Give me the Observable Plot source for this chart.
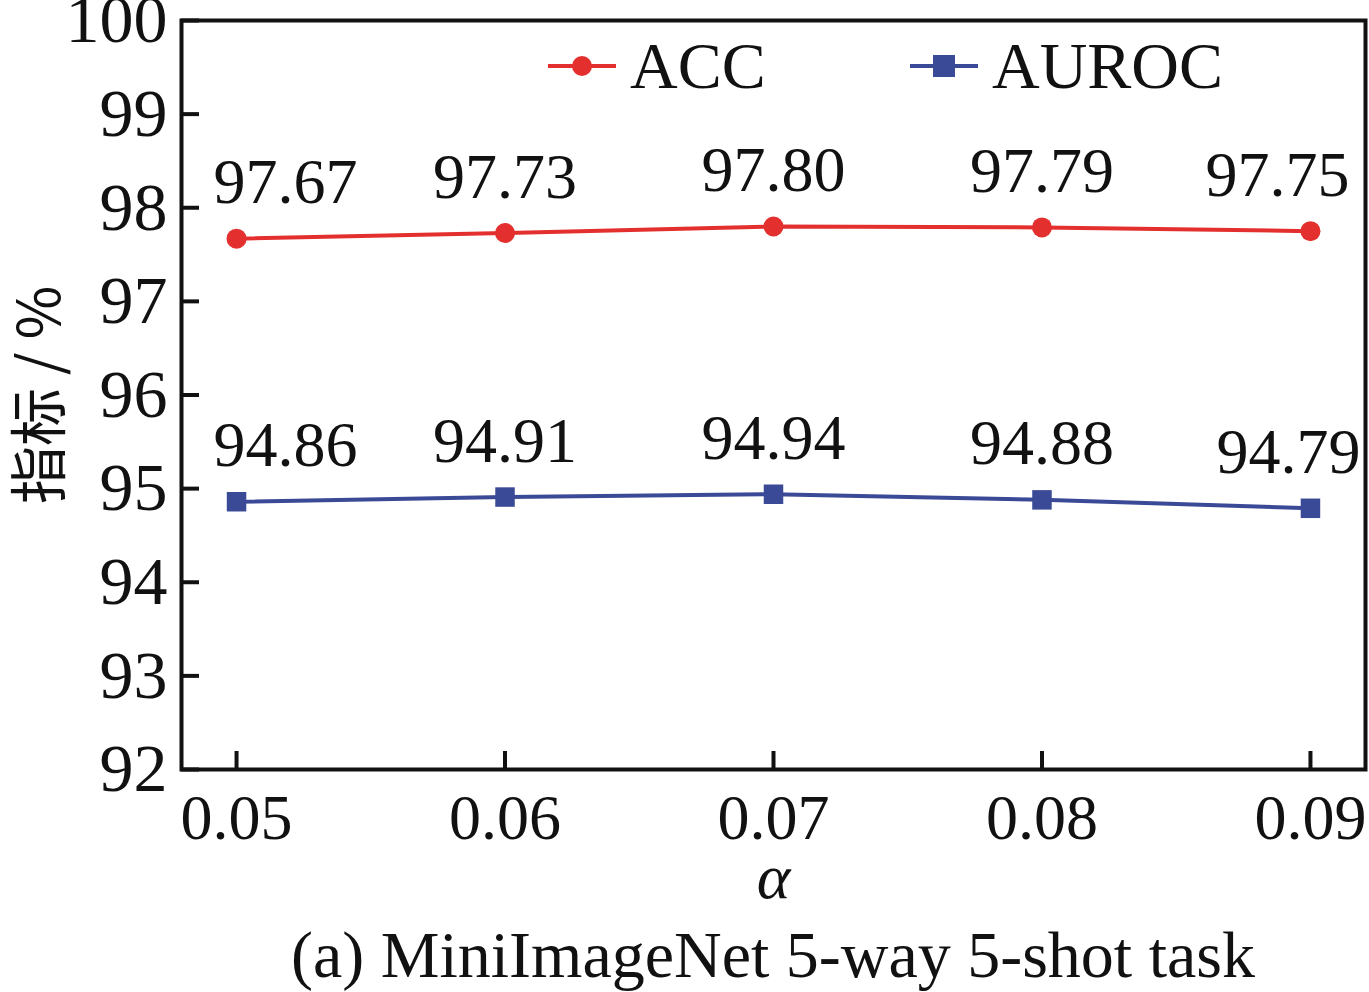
<!DOCTYPE html>
<html>
<head>
<meta charset="utf-8">
<script src="https://cdn.jsdelivr.net/npm/d3@7"></script>
<script src="https://cdn.jsdelivr.net/npm/@observablehq/plot@0.6"></script>
<style>
  html, body { margin: 0; padding: 0; background: #fff; }
  #wrap { position: relative; width: 1369px; height: 992px; font-family: "Liberation Serif", "Times New Roman", serif; }
  #legend { position: absolute; left: 0; top: 0; width: 1369px; height: 120px; pointer-events: none; }
  .leg { position: absolute; top: 28px; display: flex; align-items: center; font-size: 66px; line-height: 76px; color: #111; }
  .leg svg { margin-right: 14px; }
  #caption { position: absolute; left: 181px; top: 918px; width: 1184px; text-align: center; font-size: 66px; line-height: 74px; color: #111; white-space: nowrap; }
</style>
</head>
<body>
<div id="wrap">
  <div id="chart"></div>
  <div id="legend"></div>
  <div id="caption"></div>
</div>
<script>
const alphas = [0.05, 0.06, 0.07, 0.08, 0.09];
const accValues = [97.67, 97.73, 97.80, 97.79, 97.75];
const aurocValues = [94.86, 94.91, 94.94, 94.88, 94.79];
const yTicks = [92, 93, 94, 95, 96, 97, 98, 99, 100];
const xTickLabels = ["0.05", "0.06", "0.07", "0.08", "0.09"];
const seriesNames = ["ACC", "AUROC"];
const yLabel = "指标 / %";
const xLabel = "α";
const captionText = "(a) MiniImageNet 5-way 5-shot task";

const RED = "#e3302e";
const BLUE = "#3b4a96";

const acc = alphas.map((a, i) => ({a, v: accValues[i], label: accValues[i].toFixed(2)}));
const auroc = alphas.map((a, i) => ({a, v: aurocValues[i], label: aurocValues[i].toFixed(2)}));
const n = alphas.length;
const first = d => d.filter((_, i) => i === 0);
const mid = d => d.filter((_, i) => i > 0 && i < n - 1);
const last = d => d.filter((_, i) => i === n - 1);

const labelStyle = {fontSize: 64, fontFamily: "Liberation Serif, serif", fill: "#111"};

const plot = Plot.plot({
  width: 1369,
  height: 918,
  marginLeft: 181,
  marginRight: 4,
  marginTop: 20,
  marginBottom: 149,
  style: {fontFamily: "Liberation Serif, serif", background: "white", color: "#111"},
  x: {domain: [0.04795, 0.09205]},
  y: {domain: [92, 100]},
  marks: [
    Plot.axisY(yTicks, {tickSize: -18, strokeWidth: 4, text: null, stroke: "#111", label: null}),
    Plot.axisY(yTicks, {tickSize: 0, tickPadding: 14, fontSize: 68, fill: "#111", label: null, tickFormat: d => String(d)}),
    Plot.axisX(alphas, {tickSize: -18, strokeWidth: 4, text: null, stroke: "#111", label: null}),
    Plot.axisX(alphas, {tickSize: 0, tickPadding: 24, fontSize: 64, fill: "#111", label: null, tickFormat: (d, i) => xTickLabels[i]}),
    Plot.frame({stroke: "#111", strokeWidth: 4}),
    Plot.line(acc, {x: "a", y: "v", stroke: RED, strokeWidth: 4}),
    Plot.dot(acc, {x: "a", y: "v", r: 10, fill: RED, symbol: "circle"}),
    Plot.line(auroc, {x: "a", y: "v", stroke: BLUE, strokeWidth: 4}),
    Plot.dot(auroc, {x: "a", y: "v", r: 11, fill: BLUE, symbol: "square"}),
    Plot.text(first(acc), {x: "a", y: "v", text: "label", dy: -56, dx: 49, ...labelStyle}),
    Plot.text(mid(acc), {x: "a", y: "v", text: "label", dy: -56, ...labelStyle}),
    Plot.text(last(acc), {x: "a", y: "v", text: "label", dy: -56, dx: -33, ...labelStyle}),
    Plot.text(first(auroc), {x: "a", y: "v", text: "label", dy: -56, dx: 49, ...labelStyle}),
    Plot.text(mid(auroc), {x: "a", y: "v", text: "label", dy: -56, ...labelStyle}),
    Plot.text(last(auroc), {x: "a", y: "v", text: "label", dy: -56, dx: -22, ...labelStyle}),
    Plot.text([yLabel], {frameAnchor: "left", textAnchor: "middle", dx: -140, rotate: -90, fontSize: 58, fontFamily: "Noto Sans CJK SC, sans-serif", fill: "#111"}),
    Plot.text([xLabel], {frameAnchor: "bottom", dy: 128, fontSize: 64, fontStyle: "italic", fontFamily: "Liberation Serif, serif", fill: "#111"})
  ]
});
document.getElementById("chart").appendChild(plot);

// legend
const legend = document.getElementById("legend");
const legendPos = [548, 910];
seriesNames.forEach((name, i) => {
  const item = document.createElement("div");
  item.className = "leg";
  item.style.left = legendPos[i] + "px";
  const color = i === 0 ? RED : BLUE;
  const marker = i === 0
    ? `<circle cx="34" cy="20" r="10" fill="${color}"/>`
    : `<rect x="23" y="9" width="22" height="22" fill="${color}"/>`;
  item.innerHTML = `<svg width="68" height="40"><line x1="0" x2="68" y1="20" y2="20" stroke="${color}" stroke-width="4"/>${marker}</svg><span>${name}</span>`;
  legend.appendChild(item);
});
document.getElementById("caption").textContent = captionText;
</script>
</body>
</html>
